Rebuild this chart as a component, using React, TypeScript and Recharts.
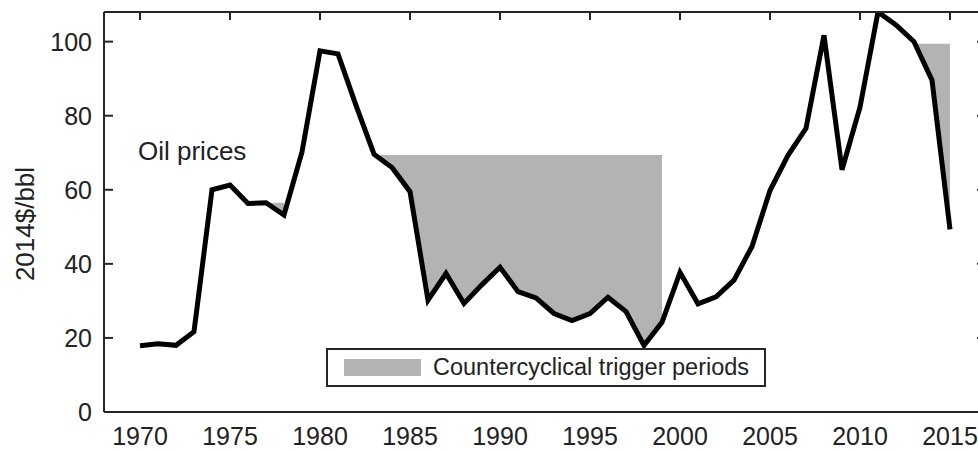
import { Area, ComposedChart, Legend, Line, XAxis, YAxis } from "recharts"

const years = [
  1970, 1971, 1972, 1973, 1974, 1975, 1976, 1977, 1978, 1979, 1980, 1981,
  1982, 1983, 1984, 1985, 1986, 1987, 1988, 1989, 1990, 1991, 1992, 1993,
  1994, 1995, 1996, 1997, 1998, 1999, 2000, 2001, 2002, 2003, 2004, 2005,
  2006, 2007, 2008, 2009, 2010, 2011, 2012, 2013, 2014, 2015,
]

// real oil price, 2014$/bbl
const oilPrice = [
  17.9, 18.4, 18.0, 21.7, 60.0, 61.3, 56.3, 56.5, 53.2, 70.2, 97.5, 96.7,
  82.8, 69.6, 66.0, 59.5, 30.2, 37.4, 29.3, 34.4, 39.1, 32.5, 30.8, 26.6,
  24.7, 26.6, 31.0, 27.1, 18.0, 24.2, 37.7, 29.2, 31.1, 35.6, 44.7, 59.8,
  69.3, 76.6, 101.7, 65.4, 82.3, 108.0, 104.5, 100.0, 89.6, 49.3,
]

const triggerFrom = [1977, 1983, 2013]
const triggerTo = [1978, 1999, 2015]
const triggerCeiling = [56.5, 69.4, 99.4]

const xTicks = [1970, 1975, 1980, 1985, 1990, 1995, 2000, 2005, 2010, 2015]
const yTicks = [0, 20, 40, 60, 80, 100]

const data = years.map((year, i) => {
  const k = triggerFrom.findIndex((f, j) => year >= f && year <= triggerTo[j])
  return {
    year,
    price: oilPrice[i],
    trigger: k >= 0 ? [oilPrice[i], triggerCeiling[k]] : null,
  }
})

const font = '"Liberation Sans", Arial, Helvetica, sans-serif'
const ink = "#222"
const axisInk = "#262626"
const gray = "#b3b3b3"

// left axis: label outside, short tick pointing into the plot
const leftTick = (p: any) => (
  <g key={`l${p.index}`}>
    <line x1={p.x + 12} x2={p.x + 21} y1={p.y} y2={p.y} stroke={axisInk} strokeWidth={2} />
    <text x={p.x} y={p.y} dy="0.36em" textAnchor="end" fontSize={25} fill={ink} fontFamily={font}>
      {p.payload.value}
    </text>
  </g>
)

const topTick = (p: any) => (
  <line key={`t${p.index}`} x1={p.x} x2={p.x} y1={p.y} y2={p.y + 8} stroke={axisInk} strokeWidth={2} />
)

const rightTick = (p: any) => (
  <line key={`r${p.index}`} x1={p.x} x2={p.x - 9} y1={p.y} y2={p.y} stroke={axisInk} strokeWidth={2} />
)

function TriggerLegend() {
  return (
    <div
      style={{
        boxSizing: "border-box",
        width: 440,
        height: 39,
        border: "2px solid #262626",
        background: "#fff",
        display: "flex",
        alignItems: "center",
        fontFamily: font,
      }}
    >
      <div style={{ width: 77, height: 17, background: gray, marginLeft: 16 }} />
      <span style={{ marginLeft: 12, fontSize: 23.5, color: ink, lineHeight: 1 }}>
        Countercyclical trigger periods
      </span>
    </div>
  )
}

export default function App() {
  return (
    <div
      style={{
        position: "absolute",
        left: 0,
        top: 0,
        width: 978,
        height: 451,
        overflow: "hidden",
        background: "#fff",
      }}
    >
      <ComposedChart
        width={990}
        height={451}
        data={data}
        margin={{ top: 11, right: 3, bottom: 0, left: 4 }}
        style={{ fontFamily: font }}
      >
        <XAxis
          dataKey="year"
          type="number"
          domain={[1968, 2017]}
          ticks={xTicks}
          interval={0}
          allowDataOverflow
          height={39}
          tickLine={false}
          tickSize={0}
          tickMargin={15}
          axisLine={{ stroke: axisInk, strokeWidth: 2 }}
          tick={{ fontSize: 25, fill: ink }}
        />
        <XAxis
          xAxisId="top"
          dataKey="year"
          type="number"
          orientation="top"
          domain={[1968, 2017]}
          ticks={xTicks}
          interval={0}
          allowDataOverflow
          height={1}
          tickSize={0}
          tickMargin={0}
          tickLine={false}
          tick={topTick}
          axisLine={{ stroke: axisInk, strokeWidth: 2 }}
        />
        <YAxis
          domain={[0, 108]}
          ticks={yTicks}
          interval={0}
          allowDataOverflow
          width={100}
          tickSize={0}
          tickMargin={12}
          tickLine={false}
          tick={leftTick}
          axisLine={{ stroke: axisInk, strokeWidth: 2 }}
        />
        <YAxis
          yAxisId="right"
          orientation="right"
          domain={[0, 108]}
          ticks={yTicks}
          interval={0}
          allowDataOverflow
          width={1}
          tickSize={0}
          tickMargin={0}
          tickLine={false}
          tick={rightTick}
          axisLine={{ stroke: axisInk, strokeWidth: 2 }}
        />
        <Area
          dataKey="trigger"
          type="linear"
          fill={gray}
          fillOpacity={1}
          stroke="none"
          isAnimationActive={false}
        />
        <Line
          dataKey="price"
          type="linear"
          stroke="#000"
          strokeWidth={5}
          strokeLinejoin="miter"
          dot={false}
          activeDot={false}
          isAnimationActive={false}
        />
        <text x={138} y={160} fontSize={26} fill={ink} fontFamily={font}>
          Oil prices
        </text>
        <text
          x={25}
          y={224}
          fontSize={26}
          fill={ink}
          fontFamily={font}
          textAnchor="middle"
          dominantBaseline="central"
          transform="rotate(-90 25 224)"
        >
          2014$/bbl
        </text>
        <Legend
          verticalAlign="middle"
          align="center"
          layout="horizontal"
          wrapperStyle={{ left: 326, top: 348, width: 440, height: 39 }}
          content={() => <TriggerLegend />}
        />
      </ComposedChart>
    </div>
  )
}
